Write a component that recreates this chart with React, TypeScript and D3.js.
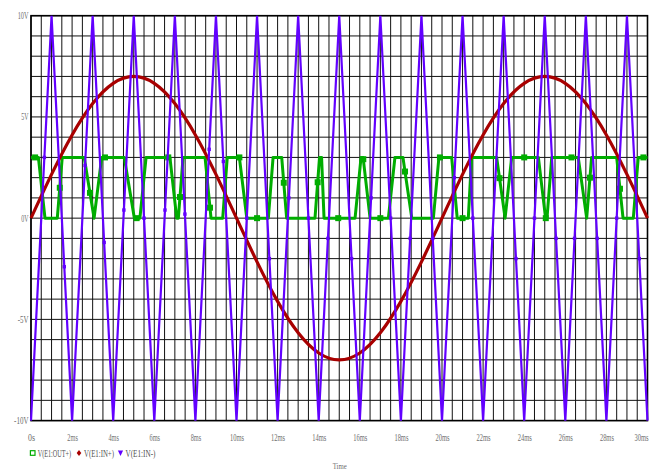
import React, { useEffect, useRef } from 'react';
import * as d3 from 'd3';

const W = 653;
const H = 471;

// axes
const xTicks = [0, 2, 4, 6, 8, 10, 12, 14, 16, 18, 20, 22, 24, 26, 28, 30];
const xTickLabels = ['0s', '2ms', '4ms', '6ms', '8ms', '10ms', '12ms', '14ms', '16ms', '18ms', '20ms', '22ms', '24ms', '26ms', '28ms', '30ms'];
const yTicks = [10, 5, 0, -5, -10];
const yTickLabels = ['10V', '5V', '0V', '-5V', '-10V'];
const seriesNames = ['V(E1:OUT+)', 'V(E1:IN+)', 'V(E1:IN-)'];

// V(E1:OUT+) - comparator output (ms, V)
const outTimes = [0, 0.36, 0.68, 1.28, 1.52, 2.59, 3.07, 3.44, 4.54, 5.03, 5.3, 5.6, 6.76, 7.09, 7.17, 7.4, 8.47, 8.76, 9.33, 9.55,
    10.14, 10.5, 11.55, 11.78, 12.2, 12.44, 13.82, 14.04, 14.14, 14.26, 15.77, 16.06, 16.16, 16.5, 17.39, 17.71, 18.1, 18.53, 19.58, 19.85,
    20.47, 20.74, 21.28, 21.44, 22.66, 23.07, 23.39, 24.69, 25.04, 25.11, 25.34, 26.63, 27.04, 27.28, 28.5, 28.81, 29.31, 29.55, 30];
const outValues = [3, 3, 0, 0, 3, 3, 0, 3, 3, 0, 0, 3, 3, 0, 0, 3, 3, 0, 0, 3,
    3, 0, 0, 3, 3, 0, 0, 3, 3, 0, 0, 3, 3, 0, 0, 3, 3, 0, 0, 3,
    3, 0, 0, 3, 3, 0, 3, 3, 0, 0, 3, 3, 0, 3, 3, 0, 0, 3, 3];
const outMarks = [0.2, 1.4, 2.87, 3.6, 5.14, 6.68, 7.25, 8.71, 10.14, 11.0, 12.3, 13.95, 14.95, 16.17, 17.0, 18.2, 19.9, 21.0, 22.8, 24.0, 25.05, 26.3, 27.2, 28.66, 29.8];

// V(E1:IN+) - sine reference
const inPlusTimes = [0, 1, 2, 3, 4, 5, 6, 7, 8, 9, 10, 11, 12, 13, 14, 15, 16, 17, 18, 19, 20, 21, 22, 23, 24, 25, 26, 27, 28, 29, 30];
const inPlusValues = [0, 2.16, 4.11, 5.66, 6.66, 7, 6.66, 5.66, 4.11, 2.16, 0, -2.16, -4.11, -5.66, -6.66, -7, -6.66, -5.66, -4.11, -2.16,
    0, 2.16, 4.11, 5.66, 6.66, 7, 6.66, 5.66, 4.11, 2.16, 0];

// V(E1:IN-) - triangle carrier
const inMinusTimes = [0, 1, 2, 3, 4, 5, 6, 7, 8, 9, 10, 11, 12, 13, 14, 15, 16, 17, 18, 19, 20, 21, 22, 23, 24, 25, 26, 27, 28, 29, 30];
const inMinusValues = [-10, 10, -10, 10, -10, 10, -10, 10, -10, 10, -10, 10, -10, 10, -10, 10, -10, 10, -10, 10,
    -10, 10, -10, 10, -10, 10, -10, 10, -10, 10, -10];
const inMinusMarks = [0.65, 1.62, 2.63, 3.56, 4.52, 5.5, 6.52, 7.49, 8.67, 9.36, 10.5, 11.6, 12.55, 13.5, 14.45, 15.6, 16.55, 17.5, 18.45, 19.55,
    20.6, 21.5, 22.45, 23.6, 24.5, 25.55, 26.45, 27.55, 28.5, 29.6];

const GREEN = '#00ad00';
const RED = '#a80000';
const PURPLE = '#6200ff';
const LABEL = '#6e6e6e';
const SX = 0.62; // horizontal squeeze of the plot font

// value on a polyline at time t (for placing markers on a trace)
const valueAt = (times, values, t) => {
    const i = Math.min(Math.max(d3.bisectLeft(times, t), 1), times.length - 1);
    const t0 = times[i - 1], t1 = times[i];
    const f = t1 === t0 ? 0 : (t - t0) / (t1 - t0);
    return values[i - 1] + f * (values[i] - values[i - 1]);
};

// condensed text: left edge at x, exact width w
const addText = (sel, str, x, y, w, size, color) => {
    sel.append('text')
        .attr('transform', `translate(${x},${y}) scale(${SX},1)`)
        .attr('font-family', 'Liberation Serif, serif')
        .attr('font-size', size)
        .attr('fill', color)
        .attr('textLength', w / SX)
        .attr('lengthAdjust', 'spacingAndGlyphs')
        .text(str);
};

const App = () => {
    const svgRef = useRef(null);

    useEffect(() => {
        const svg = d3.select(svgRef.current);
        svg.selectAll('*').remove();

        const x = d3.scaleLinear().domain([0, 30]).range([31, 647.5]);
        const y = d3.scaleLinear().domain([-10, 10]).range([420.6, 15.7]);

        svg.append('rect').attr('width', W).attr('height', H).attr('fill', '#fff');

        // grid
        const grid = svg.append('g');
        d3.range(0, 30.001, 0.5).forEach(t => {
            grid.append('line')
                .attr('x1', x(t)).attr('x2', x(t))
                .attr('y1', y(10)).attr('y2', y(-10))
                .attr('stroke', '#111').attr('stroke-width', 1);
        });
        d3.range(-10, 10.001, 1).forEach(v => {
            grid.append('line')
                .attr('x1', x(0)).attr('x2', x(30))
                .attr('y1', y(v)).attr('y2', y(v))
                .attr('stroke', '#111').attr('stroke-width', 1);
        });
        svg.append('rect')
            .attr('x', x(0)).attr('y', y(10))
            .attr('width', x(30) - x(0)).attr('height', y(-10) - y(10))
            .attr('fill', 'none').attr('stroke', '#000').attr('stroke-width', 1.6);

        // y tick labels
        yTicks.forEach((v, i) => {
            const lab = yTickLabels[i];
            const w = lab.length * 3.6;
            addText(svg, lab, 28.5 - w, y(v) + 3.5, w, 10, LABEL);
        });

        // x tick labels
        xTicks.forEach((t, i) => {
            const lab = xTickLabels[i];
            const w = lab.length * 3.5;
            const cx = Math.min(x(t) + 0.5, 648.5 - w / 2);
            addText(svg, lab, cx - w / 2, 441, w, 10, LABEL);
        });

        addText(svg, 'Time', 332.7, 469, 14, 9, LABEL);

        const plot = svg.append('g');

        // V(E1:OUT+)
        const outLine = d3.line().x((d, i) => x(outTimes[i])).y(d => y(d));
        plot.append('path')
            .datum(outValues)
            .attr('fill', 'none').attr('stroke', GREEN).attr('stroke-width', 3)
            .attr('stroke-linejoin', 'round')
            .attr('d', outLine);
        outMarks.forEach(t => {
            plot.append('rect')
                .attr('x', x(t) - 3).attr('y', y(valueAt(outTimes, outValues, t)) - 3)
                .attr('width', 6).attr('height', 6)
                .attr('fill', GREEN);
        });

        // V(E1:IN+)
        const sineLine = d3.line().curve(d3.curveNatural).x((d, i) => x(inPlusTimes[i])).y(d => y(d));
        plot.append('path')
            .datum(inPlusValues)
            .attr('fill', 'none').attr('stroke', RED).attr('stroke-width', 3.2)
            .attr('d', sineLine);

        // V(E1:IN-)
        const triLine = d3.line().x((d, i) => x(inMinusTimes[i])).y(d => y(d));
        plot.append('path')
            .datum(inMinusValues)
            .attr('fill', 'none').attr('stroke', PURPLE).attr('stroke-width', 2.2)
            .attr('d', triLine);
        inMinusMarks.forEach(t => {
            plot.append('rect')
                .attr('x', x(t) - 1.7).attr('y', y(valueAt(inMinusTimes, inMinusValues, t)) - 1.7)
                .attr('width', 3.4).attr('height', 3.4)
                .attr('fill', PURPLE);
        });

        // legend
        const legend = svg.append('g');
        const legendY = 453;
        const legendX = [32.7, 79, 120.5];
        const legendW = [33.4, 30, 30];
        const colors = [GREEN, RED, PURPLE];
        seriesNames.forEach((name, i) => {
            const lx = legendX[i];
            if (i === 0) {
                legend.append('rect')
                    .attr('x', lx - 2.3).attr('y', legendY - 2.3)
                    .attr('width', 4.6).attr('height', 4.6)
                    .attr('fill', 'none').attr('stroke', colors[i]).attr('stroke-width', 1.2);
            } else if (i === 1) {
                legend.append('path')
                    .attr('d', `M${lx},${legendY - 3}L${lx + 2.3},${legendY}L${lx},${legendY + 3}L${lx - 2.3},${legendY}Z`)
                    .attr('fill', colors[i]);
            } else {
                legend.append('path')
                    .attr('d', `M${lx - 2.6},${legendY - 2.5}L${lx + 2.6},${legendY - 2.5}L${lx},${legendY + 3}Z`)
                    .attr('fill', colors[i]);
            }
            addText(legend, name, lx + 5, legendY + 3.5, legendW[i], 10, '#555');
        });
    }, []);

    return (
        <svg ref={svgRef} width={W} height={H} style={{ position: 'absolute', left: 0, top: 0 }}></svg>
    );
};

export default App;
